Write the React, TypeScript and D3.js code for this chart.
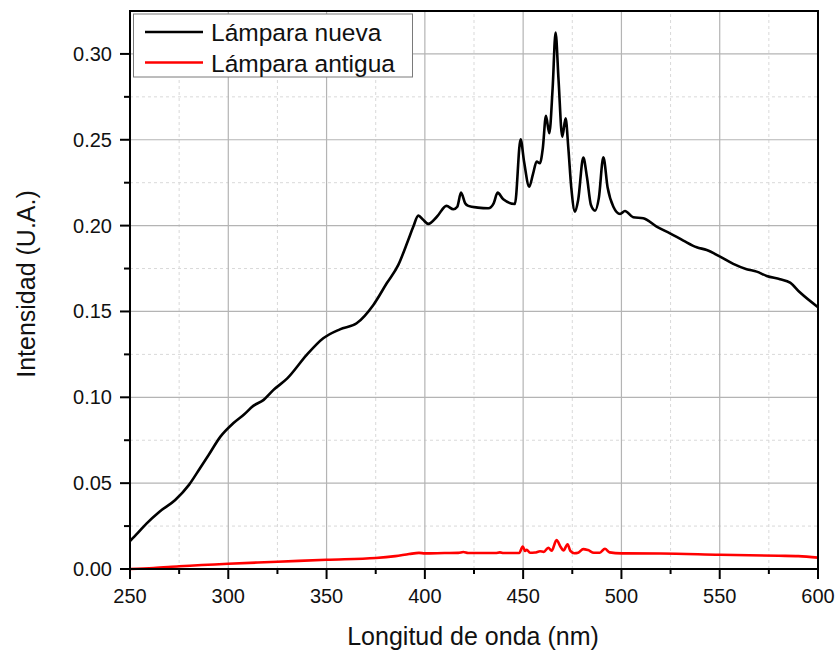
import React from "react";
import * as d3 from "d3";

// Emission spectra: wavelength (nm) and intensity (arbitrary units)
const nuevaWavelength = [
  250, 254, 258.5, 265, 273, 280, 285.6, 290, 296, 302.5, 308, 312.7, 318, 323, 330, 339.9, 348.3,
  356.8, 365.3, 373.8, 380.6, 386.5, 391.5, 394, 396.7, 399, 401.8, 406, 411, 414.5, 416.5, 418.4,
  420.5, 422.1, 427, 432.3, 435, 437, 439.9, 445.8, 448.7, 450.5, 453.1, 455, 456.9, 458.5, 460,
  461.6, 463.3, 465, 466.5, 468, 469.9, 471.6, 473, 474.5, 476.4, 478, 480.6, 482.5, 484.5, 486.6,
  488.5, 490.8, 493, 495.9, 499.3, 501.8, 506, 511.1, 517.9, 524.7, 531.5, 538.3, 543.4, 550.2,
  556.9, 563.7, 568.8, 573.9, 580.7, 585.8, 590.9, 600,
];
const nuevaIntensity = [
  0.0163, 0.021, 0.0266, 0.0334, 0.0402, 0.049, 0.0587, 0.0664, 0.0771, 0.0849, 0.09, 0.095, 0.0985,
  0.1043, 0.111, 0.1247, 0.1344, 0.1396, 0.1431, 0.1538, 0.1664, 0.1771, 0.1915, 0.199, 0.2058,
  0.2035, 0.201, 0.205, 0.2115, 0.2095, 0.211, 0.2192, 0.213, 0.2115, 0.2105, 0.2101, 0.213, 0.2192,
  0.2153, 0.2126, 0.2503, 0.237, 0.2227, 0.23, 0.2373, 0.2363, 0.245, 0.2639, 0.2538, 0.28, 0.3125,
  0.285, 0.2518, 0.2625, 0.245, 0.222, 0.2081, 0.215, 0.2396, 0.228, 0.212, 0.2087, 0.216, 0.2398,
  0.222, 0.211, 0.2068, 0.2085, 0.2049, 0.2043, 0.1994, 0.1955, 0.1913, 0.1874, 0.1858, 0.1819,
  0.1777, 0.1746, 0.1732, 0.1707, 0.1688, 0.1668, 0.161, 0.1525,
];

const antiguaWavelength = [
  250, 262, 275, 300, 325, 350, 375, 385, 392, 397, 400, 410, 417, 419.6, 422, 436, 438.2, 440, 448,
  449.8, 451, 451.8, 453.5, 456, 458.6, 460.5, 462.8, 464.5, 467, 469, 470.5, 472.6, 474, 476, 478,
  480.6, 483, 486, 489, 491.6, 494, 500, 520, 550, 580, 590, 600,
];
const antiguaIntensity = [
  0, 0.0006, 0.0016, 0.0031, 0.0042, 0.0054, 0.0064, 0.0075, 0.0087, 0.0094, 0.0091, 0.0093, 0.0094,
  0.0099, 0.0093, 0.0093, 0.0097, 0.0093, 0.0093, 0.0131, 0.0105, 0.0112, 0.0095, 0.0096, 0.0103,
  0.01, 0.0124, 0.0106, 0.0169, 0.013, 0.0108, 0.0144, 0.0105, 0.0092, 0.0095, 0.0116, 0.011, 0.0095,
  0.0095, 0.0118, 0.0097, 0.0091, 0.009, 0.0083, 0.0077, 0.0075, 0.0066,
];

const xMajorTicks = [250, 300, 350, 400, 450, 500, 550, 600];
const xMinorTicks = [275, 325, 375, 425, 475, 525, 575];
const yMajorTicks = [0, 0.05, 0.1, 0.15, 0.2, 0.25, 0.3];
const yMinorTicks = [0.025, 0.075, 0.125, 0.175, 0.225, 0.275];

const seriesNames = ["Lámpara nueva", "Lámpara antigua"];
const seriesColors = ["#000000", "#ff0000"];

const W = 837;
const H = 652;
const margin = { left: 130, right: 19, top: 11, bottom: 83 };
const FONT = "'Liberation Sans', Arial, sans-serif";

export default function App() {
  const x = d3.scaleLinear().domain([250, 600]).range([margin.left, W - margin.right]);
  const y = d3.scaleLinear().domain([0, 0.325]).range([H - margin.bottom, margin.top]);

  const line = d3
    .line<[number, number]>()
    .x((d) => x(d[0]))
    .y((d) => y(d[1]))
    .curve(d3.curveMonotoneX);

  const nueva = nuevaWavelength.map((w, i) => [w, nuevaIntensity[i]] as [number, number]);
  const antigua = antiguaWavelength.map((w, i) => [w, antiguaIntensity[i]] as [number, number]);

  const x0 = x(250);
  const x1 = x(600);
  const y0 = y(0);
  const y1 = y(0.325);

  return (
    <svg
      width={W}
      height={H}
      style={{ position: "absolute", left: 0, top: 0, background: "#fff" }}
      fontFamily={FONT}
    >
      {/* grid */}
      <g>
        {xMinorTicks.map((t) => (
          <line key={"xm" + t} x1={x(t)} x2={x(t)} y1={y0} y2={y1} stroke="#d9d9d9" strokeWidth={1} strokeDasharray="3,3" />
        ))}
        {yMinorTicks.map((t) => (
          <line key={"ym" + t} x1={x0} x2={x1} y1={y(t)} y2={y(t)} stroke="#d9d9d9" strokeWidth={1} strokeDasharray="3,3" />
        ))}
        {xMajorTicks.slice(1, -1).map((t) => (
          <line key={"xM" + t} x1={x(t)} x2={x(t)} y1={y0} y2={y1} stroke="#b4b4b4" strokeWidth={1.2} />
        ))}
        {yMajorTicks.slice(1).map((t) => (
          <line key={"yM" + t} x1={x0} x2={x1} y1={y(t)} y2={y(t)} stroke="#b4b4b4" strokeWidth={1.2} />
        ))}
      </g>

      {/* spectra */}
      <path d={line(antigua) || ""} fill="none" stroke={seriesColors[1]} strokeWidth={2.6} strokeLinejoin="round" />
      <path d={line(nueva) || ""} fill="none" stroke={seriesColors[0]} strokeWidth={2.6} strokeLinejoin="round" />

      {/* frame */}
      <rect x={x0} y={y1} width={x1 - x0} height={y0 - y1} fill="none" stroke="#000" strokeWidth={2} />

      {/* x axis ticks and labels */}
      {xMajorTicks.map((t) => (
        <g key={"xt" + t}>
          <line x1={x(t)} x2={x(t)} y1={y0} y2={y0 + 10} stroke="#000" strokeWidth={2} />
          <text x={x(t)} y={y0 + 34} textAnchor="middle" fontSize={20} fill="#111">
            {t}
          </text>
        </g>
      ))}
      {xMinorTicks.map((t) => (
        <line key={"xmt" + t} x1={x(t)} x2={x(t)} y1={y0} y2={y0 + 5} stroke="#000" strokeWidth={2} />
      ))}

      {/* y axis ticks and labels */}
      {yMajorTicks.map((t) => (
        <g key={"yt" + t}>
          <line x1={x0 - 10} x2={x0} y1={y(t)} y2={y(t)} stroke="#000" strokeWidth={2} />
          <text x={x0 - 18} y={y(t) + 7} textAnchor="end" fontSize={20} fill="#111">
            {d3.format(".2f")(t)}
          </text>
        </g>
      ))}
      {yMinorTicks.map((t) => (
        <line key={"ymt" + t} x1={x0 - 6} x2={x0} y1={y(t)} y2={y(t)} stroke="#000" strokeWidth={2} />
      ))}

      {/* axis titles */}
      <text x={(x0 + x1) / 2 - 1} y={645} textAnchor="middle" fontSize={25} fill="#111">
        Longitud de onda (nm)
      </text>
      <text
        transform={`translate(35, ${(y0 + y1) / 2 - 6}) rotate(-90)`}
        textAnchor="middle"
        fontSize={25}
        fill="#111"
      >
        Intensidad (U.A.)
      </text>

      {/* legend */}
      <g>
        <rect x={133.5} y={14} width={279} height={63} fill="#fff" stroke="#7a7a7a" strokeWidth={1} />
        {seriesNames.map((name, i) => (
          <g key={name}>
            <line x1={145} x2={203} y1={32 + i * 30.5} y2={32 + i * 30.5} stroke={seriesColors[i]} strokeWidth={2.6} />
            <text x={211} y={40.5 + i * 31} fontSize={24.5} fill="#111">
              {name}
            </text>
          </g>
        ))}
      </g>
    </svg>
  );
}
